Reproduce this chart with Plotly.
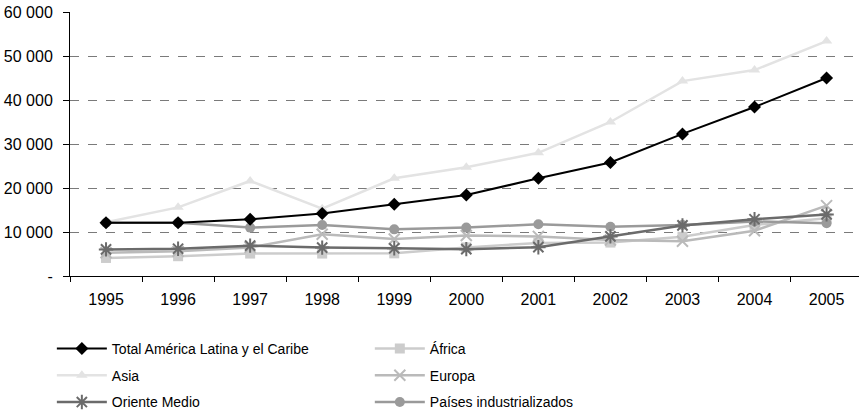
import plotly.graph_objects as go

years = ["1995", "1996", "1997", "1998", "1999", "2000", "2001", "2002", "2003", "2004", "2005"]

total_alc = [12100, 12100, 12900, 14200, 16300, 18400, 22200, 25800, 32300, 38400, 45000]
asia = [12200, 15600, 21600, 15300, 22200, 24700, 28000, 35000, 44300, 46800, 53400]
oriente = [6050, 6200, 6900, 6450, 6300, 6100, 6550, 9000, 11500, 12900, 14000]
africa = [4100, 4500, 5100, 5100, 5150, 6500, 7500, 7600, 8900, 11600, 13100]
europa = [5300, 5600, 6500, 9500, 8400, 9200, 9000, 8200, 7900, 10300, 16000]
paises = [12100, 12100, 11000, 11600, 10600, 11000, 11750, 11200, 11600, 12400, 12000]

y_tickvals = [0, 10000, 20000, 30000, 40000, 50000, 60000]
y_ticktext = ["-", "10 000", "20 000", "30 000", "40 000", "50 000", "60 000"]

FONT = "Liberation Sans, Arial, sans-serif"

series = [
    # name, values, color, symbol, size, width, legend, rank
    ("Asia", asia, "#e3e3e3", "triangle-up", 10, 2.5, "legend", 2),
    ("África", africa, "#cccccc", "square", 10, 2.5, "legend2", 1),
    ("Europa", europa, "#bababa", "x-thin-open", 11, 2.5, "legend2", 2),
    ("Países industrializados", paises, "#9a9a9a", "circle", 10, 2.5, "legend2", 3),
    ("Oriente Medio", oriente, "#6b6b6b", "asterisk-open", 12, 2.5, "legend", 3),
    ("Total América Latina y el Caribe", total_alc, "#000000", "diamond", 10, 2, "legend", 1),
]

fig = go.Figure()
for name, vals, color, sym, size, width, leg, rank in series:
    marker = dict(symbol=sym, size=size, color=color)
    if "open" in sym:
        marker["line"] = dict(color=color, width=2)
    fig.add_trace(go.Scatter(
        x=years, y=vals, name=name, mode="lines+markers",
        line=dict(color=color, width=width),
        marker=marker, legend=leg, legendrank=rank, legendgroup=name,
    ))

legend_common = dict(
    orientation="v", xanchor="left", yanchor="top",
    font=dict(family=FONT, size=14, color="#000000"),
    bgcolor="rgba(0,0,0,0)", borderwidth=0, tracegroupgap=5.5,
    itemwidth=50, itemclick=False, itemdoubleclick=False,
)

fig.update_layout(
    width=859, height=417,
    margin=dict(l=70, r=0, t=12, b=141, autoexpand=False),
    plot_bgcolor="white", paper_bgcolor="white",
    font=dict(family=FONT, size=16, color="#000000"),
    legend=dict(x=-0.023, y=-0.216, **legend_common),
    legend2=dict(x=0.38, y=-0.216, **legend_common),
    hovermode=False,
    xaxis=dict(
        type="category", range=[-0.5, 10.45],
        showline=True, linecolor="black", linewidth=1,
        ticks="outside", tickson="boundaries", ticklen=5, tickcolor="black",
        showgrid=False, zeroline=False, ticklabelstandoff=9,
        tickfont=dict(family=FONT, size=16),
    ),
    yaxis=dict(
        range=[0, 60000], tickvals=y_tickvals, ticktext=y_ticktext,
        showline=True, linecolor="black", linewidth=1,
        ticks="outside", ticklen=6, tickcolor="black",
        showgrid=True, gridcolor="#7a7a7a", griddash="dash", gridwidth=1,
        zeroline=False, ticklabelstandoff=7, tickfont=dict(family=FONT, size=16),
    ),
)

# remove the default page margin so the figure sits at the window's top-left corner
fig.write_html(
    "out.html",
    config={"displayModeBar": False, "staticPlot": False},
    post_script="document.body.style.margin='0px';",
)
